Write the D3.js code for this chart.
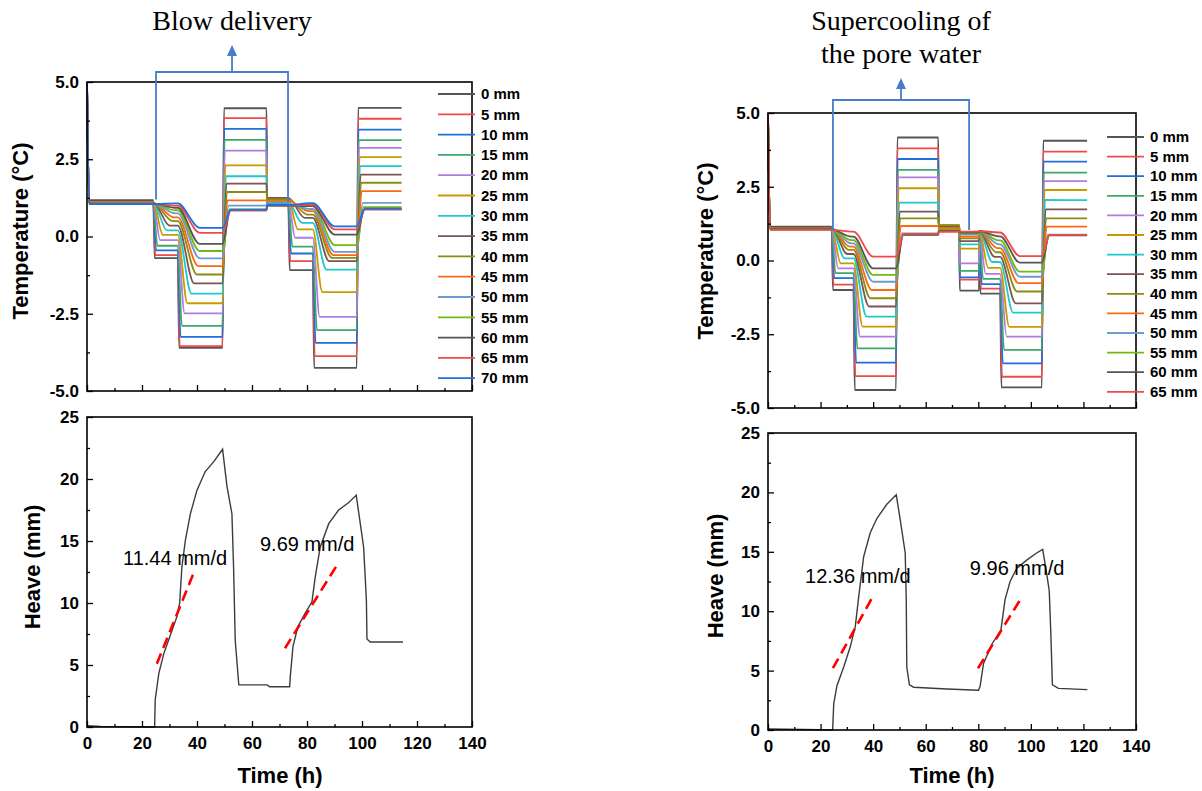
<!DOCTYPE html>
<html>
<head>
<meta charset="utf-8">
<script src="https://cdn.jsdelivr.net/npm/d3@7"></script>
<style>
body { margin: 0; background: #fff; }
svg { display: block; font-family: Arial, "Liberation Sans", sans-serif; }
</style>
</head>
<body>
<svg id="fig" width="1202" height="791"></svg>
<script>

// ---------- data ----------
var depthLabels = ["0 mm", "5 mm", "10 mm", "15 mm", "20 mm", "25 mm", "30 mm", "35 mm",
                   "40 mm", "45 mm", "50 mm", "55 mm", "60 mm", "65 mm", "70 mm"];
var lineColours = ["#555555", "#f14a4a", "#1f6fdc", "#3aa96a", "#b07ce0", "#c99a00", "#1ec8cc", "#7f5353",
                   "#8c8c10", "#fb6a10", "#6c9bd0", "#72b914", "#555555", "#f14a4a", "#1f6fdc"];

// left test (blow delivery): phase start times (h), last time, phase kinds
var leftPhaseStart = [0, 24.1, 33.0, 49.3, 65.3, 73.2, 82.1, 98.1];
var leftEndTime = 114.4;
var leftPhaseKind = ["init", "cool", "cool", "warm", "step", "cool", "cool", "warm"];
var leftReset = [null, null, null, null, null, null, null, null];
// plateau temperature (°C) reached in each phase, one row per depth
var leftLevels = [
  [1.18, -0.70, -3.60, 4.15, 1.05, -1.09, -4.25, 4.16],
  [1.10, -0.60, -3.55, 3.83, 1.05, -0.80, -3.87, 3.81],
  [1.08, -0.45, -3.25, 3.48, 1.05, -0.55, -3.44, 3.46],
  [1.08, -0.30, -2.89, 3.13, 1.10, -0.33, -3.03, 3.12],
  [1.08, -0.12, -2.49, 2.78, 1.15, -0.04, -2.60, 2.87],
  [1.10,  0.05, -2.16, 2.30, 1.22,  0.23, -1.80, 2.57],
  [1.08,  0.20, -1.85, 1.95, 1.12,  0.44, -1.07, 2.28],
  [1.10,  0.35, -1.52, 1.71, 1.25,  0.60, -0.80, 2.00],
  [1.08,  0.50, -1.23, 1.44, 1.20,  0.71, -0.69, 1.74],
  [1.08,  0.62, -0.96, 1.17, 1.15,  0.82, -0.60, 1.47],
  [1.06,  0.75, -0.71, 1.00, 1.05,  0.89, -0.50, 1.09],
  [1.06,  0.85, -0.47, 0.88, 1.00,  0.98, -0.28, 0.95],
  [1.06,  0.93, -0.24, 0.85, 1.00,  0.98,  0.06, 0.88],
  [1.05,  1.00,  0.12, 0.85, 1.00,  1.03,  0.23, 0.88],
  [1.05,  1.07,  0.28, 0.87, 1.02,  1.08,  0.33, 0.90]
];
// hours each depth needs to settle after a cooling / warming step
var leftCoolLag = [0.5, 0.7, 1.0, 1.5, 2.5, 3.5, 5.0, 6.0, 7.0, 7.5, 8.0, 8.0, 8.0, 8.0, 8.0];
var leftWarmLag = [0.5, 0.5, 0.6, 0.7, 0.8, 1.0, 1.2, 1.4, 1.6, 1.8, 2.2, 2.5, 2.8, 3.0, 3.0];

// right test (supercooling)
var rightPhaseStart = [0, 24.2, 32.5, 48.7, 64.8, 72.8, 80.3, 88.3, 104.2];
var rightEndTime = 121.4;
var rightPhaseKind = ["init", "cool", "cool", "warm", "step", "step", "cool", "cool", "warm"];
var rightReset = [null, null, null, null, null, null, 1.0, null, null];
var rightLevels = [
  [1.15, -1.00, -4.39, 4.17, 1.00, -1.02, -1.12, -4.30, 4.06],
  [1.08, -0.82, -3.92, 3.80, 0.98, -0.65, -0.95, -3.94, 3.69],
  [1.08, -0.60, -3.46, 3.44, 1.00, -0.57, -0.80, -3.49, 3.35],
  [1.08, -0.43, -2.98, 3.07, 1.02, -0.35, -0.62, -3.03, 2.98],
  [1.08, -0.27, -2.58, 2.82, 1.05, -0.10, -0.45, -2.58, 2.69],
  [1.10, -0.10, -2.24, 2.45, 1.20,  0.40, -0.25, -2.25, 2.39],
  [1.08,  0.07, -1.90, 1.96, 1.10,  0.55, -0.05, -1.77, 2.05],
  [1.10,  0.22, -1.56, 1.66, 1.15,  0.66,  0.12, -1.45, 1.73],
  [1.08,  0.36, -1.28, 1.43, 1.20,  0.75,  0.28, -1.05, 1.43],
  [1.08,  0.47, -1.00, 1.17, 1.10,  0.81,  0.42, -0.77, 1.15],
  [1.06,  0.58, -0.72, 0.92, 1.00,  0.88,  0.55, -0.55, 0.88],
  [1.06,  0.69, -0.49, 0.88, 1.05,  0.92,  0.68, -0.38, 0.86],
  [1.06,  0.81, -0.27, 0.87, 1.00,  0.95,  0.82, -0.07, 0.85],
  [1.04,  0.98,  0.13, 0.90, 0.98,  0.98,  0.95,  0.15, 0.87]
];
var rightCoolLag = [0.5, 0.7, 1.0, 1.5, 2.5, 3.5, 5.0, 6.0, 6.5, 7.0, 7.5, 7.5, 7.5, 7.5];
var rightWarmLag = [0.5, 0.5, 0.6, 0.7, 0.8, 1.0, 1.2, 1.4, 1.6, 1.8, 2.2, 2.5, 2.8, 3.0];

var startTemp = 5.0;
var initLag = 0.8;
var stepLag = 0.15;

// heave curves
var leftHeaveTime = [0, 5, 24.6, 24.8, 26.1, 27.9, 30.3, 32.7, 33.7, 34.5, 35.8, 37.6, 40, 43, 46.1, 49.3,
  50.9, 52.7, 53.3, 53.9, 55.2, 65.5, 66.4, 73.7, 73.9, 74.9, 76.7, 79.4, 81.8, 83.0, 84.8, 87.9,
  91.5, 95.2, 97.9, 100.6, 101.6, 101.8, 103.0, 114.9];
var leftHeave = [0.1, 0.05, 0, 2.2, 4.3, 5.9, 7.4, 8.9, 10.0, 12.9, 15.1, 17.2, 19.1, 20.6, 21.4, 22.4,
  19.4, 17.2, 12.9, 7.0, 3.4, 3.4, 3.25, 3.25, 4.0, 6.5, 8.1, 9.2, 10.1, 12.1, 14.5, 16.4,
  17.5, 18.1, 18.7, 14.5, 10.2, 7.1, 6.85, 6.85];
var rightHeaveTime = [0, 19.9, 24.6, 25.0, 26.2, 28.8, 31.3, 33.2, 34.5, 36.4, 38.9, 41.4, 45.2, 48.8,
  50.3, 52.2, 52.6, 52.8, 53.8, 55.4, 68.0, 80.1, 80.7, 82.0, 85.1, 88.6, 90.2, 92.1, 94.6, 98.4,
  102.2, 104.5, 106.0, 107.0, 107.6, 108.2, 110.5, 121.5];
var rightHeave = [0.08, 0.02, 0, 2.2, 3.7, 5.3, 7.0, 8.7, 11.2, 14.6, 16.6, 17.8, 19.0, 19.8,
  17.7, 14.9, 11.0, 5.3, 3.8, 3.6, 3.45, 3.35, 3.7, 5.6, 7.2, 8.4, 11.0, 12.5, 13.6, 14.3,
  14.9, 15.2, 13.2, 11.7, 8.1, 3.8, 3.5, 3.4];

// heave-rate tangents [t0, t1] / [h0, h1] and labels
var leftRateT = [[25.4, 39.3], [72.0, 91.6]];
var leftRateH = [[5.1, 12.7], [6.35, 13.3]];
var leftRateText = ["11.44 mm/d", "9.69 mm/d"];
var leftRateTextAt = [[13.1, 13.06], [62.9, 14.2]];
var rightRateT = [[24.7, 40.3], [79.9, 96.6]];
var rightRateH = [[5.2, 11.4], [5.2, 11.2]];
var rightRateText = ["12.36 mm/d", "9.96 mm/d"];
var rightRateTextAt = [[14.1, 12.37], [76.8, 13.05]];

var timeTicks = [0, 20, 40, 60, 80, 100, 120, 140];
var tempTicks = [-5, -2.5, 0, 2.5, 5];
var heaveTicks = [0, 5, 10, 15, 20, 25];

// ---------- drawing ----------
var svg = d3.select("#fig");
var serif = "'Times New Roman', 'Liberation Serif', serif";

function addAxes(g, x, y, yTicks, yMinorStep, showXLabels, yFmt) {
	var x0 = x.range()[0], x1 = x.range()[1];
	var y0 = y.range()[0], y1 = y.range()[1];
	var yDom = y.domain();

	// inward ticks, minor first
	var xMinor = d3.range(10, 140, 20);
	g.append("g").attr("transform", "translate(0," + y0 + ")")
	.call(d3.axisBottom(x).tickValues(xMinor).tickSize(-3).tickFormat(""));
	g.append("g").attr("transform", "translate(0," + y0 + ")")
	.call(d3.axisBottom(x).tickValues(timeTicks).tickSize(-6).tickPadding(10)
		.tickFormat(showXLabels ? function(d){ return d; } : ""));

	var yMinor = d3.range(yDom[0] + yMinorStep, yDom[1], yMinorStep * 2);
	g.append("g").attr("transform", "translate(" + x0 + ",0)")
	.call(d3.axisLeft(y).tickValues(yMinor).tickSize(-3).tickFormat(""));
	g.append("g").attr("transform", "translate(" + x0 + ",0)")
	.call(d3.axisLeft(y).tickValues(yTicks).tickSize(-6).tickPadding(8).tickFormat(yFmt));

	g.selectAll(".domain").remove();
	g.selectAll(".tick line").attr("stroke", "#000").attr("stroke-width", 1.3);
	g.selectAll(".tick text").attr("fill", "#000").style("font-size", "17px").style("font-weight", "bold")
	.style("font-family", "Arial, 'Liberation Sans', sans-serif");

	// frame
	g.append("rect").attr("x", x0).attr("y", y1).attr("width", x1 - x0).attr("height", y0 - y1)
	.attr("fill", "none").attr("stroke", "#000").attr("stroke-width", 1.6);
}

function tempPanel(o) {
	var x = d3.scaleLinear().domain([0, 140]).range([o.left, o.right]);
	var y = d3.scaleLinear().domain([-5, 5]).range([o.bottom, o.top]);
	var g = svg.append("g");

	var line = d3.line()
	.x(function(d) { return x(d[0]); })
	.y(function(d) { return y(d[1]); })
	.curve(d3.curveMonotoneX);

	o.levels.forEach(function(lv, i) {
		var pts = [[0, startTemp]];
		o.phaseStart.forEach(function(t0, p) {
			var t1 = p < o.phaseStart.length - 1 ? o.phaseStart[p + 1] : o.end;
			var kind = o.kind[p];
			var lag = kind == "init" ? initLag : kind == "step" ? stepLag :
				kind == "cool" ? o.coolLag[i] : o.warmLag[i];
			if (o.reset[p] != null) pts.push([t0 + 0.1, o.reset[p]]);
			pts.push([t0 + lag, lv[p]]);
			pts.push([t1, lv[p]]);
		});
		g.append("path").attr("d", line(pts))
		.attr("fill", "none").attr("stroke", lineColours[i]).attr("stroke-width", 1.8);
	});

	addAxes(g, x, y, tempTicks, 1.25, false, function(d) { return d.toFixed(1); });

	// legend
	o.levels.forEach(function(lv, i) {
		var ly = o.legTop + i * o.legStep;
		g.append("line").attr("x1", o.legX).attr("x2", o.legX + 37).attr("y1", ly).attr("y2", ly)
		.attr("stroke", lineColours[i]).attr("stroke-width", 1.8);
		g.append("text").attr("x", o.legX + 43).attr("y", ly).attr("dy", "0.35em")
		.style("font-size", "15px").style("font-weight", "bold").text(depthLabels[i]);
	});

	g.append("text")
	.attr("transform", "translate(" + o.yLabelX + "," + o.yLabelY + ") rotate(-90)")
	.attr("text-anchor", "middle").attr("dy", "0.35em")
	.style("font-size", "22px").style("font-weight", "bold")
	.text("Temperature (\u00b0C)");

	// bracket with arrow
	var bx0 = x(o.bracketT[0]), bx1 = x(o.bracketT[1]), cx = (bx0 + bx1) / 2 + o.arrowShift;
	g.append("path")
	.attr("d", "M" + bx0 + "," + y(o.bracketBottom[0]) + "V" + o.bracketTop + "H" + bx1 + "V" + y(o.bracketBottom[1]))
	.attr("fill", "none").attr("stroke", "#4a7cc9").attr("stroke-width", 1.8);
	g.append("line").attr("x1", cx).attr("x2", cx).attr("y1", o.bracketTop).attr("y2", o.arrowTip + 10)
	.attr("stroke", "#4a7cc9").attr("stroke-width", 1.8);
	g.append("path")
	.attr("d", "M" + (cx - 5) + "," + (o.arrowTip + 11) + "L" + cx + "," + o.arrowTip + "L" + (cx + 5) + "," + (o.arrowTip + 11) + "Z")
	.attr("fill", "#4a7cc9");

	o.title.forEach(function(s, k) {
		g.append("text").attr("x", cx).attr("y", o.titleY + k * 33)
		.attr("text-anchor", "middle").style("font-family", serif).style("font-size", "28px")
		.text(s);
	});
}

function heavePanel(o) {
	var x = d3.scaleLinear().domain([0, 140]).range([o.left, o.right]);
	var y = d3.scaleLinear().domain([0, 25]).range([o.bottom, o.top]);
	var g = svg.append("g");

	var line = d3.line()
	.x(function(d) { return x(d[0]); })
	.y(function(d) { return y(d[1]); });

	var pts = o.time.map(function(t, k) { return [t, o.heave[k]]; });
	g.append("path").attr("d", line(pts))
	.attr("fill", "none").attr("stroke", "#3c3c3c").attr("stroke-width", 1.4);

	o.rateT.forEach(function(tt, k) {
		g.append("line")
		.attr("x1", x(tt[0])).attr("x2", x(tt[1]))
		.attr("y1", y(o.rateH[k][0])).attr("y2", y(o.rateH[k][1]))
		.attr("stroke", "#ff0000").attr("stroke-width", 2.6).attr("stroke-dasharray", "11,6");
		g.append("text").attr("x", x(o.textAt[k][0])).attr("y", y(o.textAt[k][1]))
		.style("font-size", "20px").text(o.text[k]);
	});

	addAxes(g, x, y, heaveTicks, 2.5, true, function(d) { return d; });

	g.append("text")
	.attr("transform", "translate(" + o.yLabelX + "," + o.yLabelY + ") rotate(-90)")
	.attr("text-anchor", "middle").attr("dy", "0.35em")
	.style("font-size", "22px").style("font-weight", "bold")
	.text("Heave (mm)");
	g.append("text").attr("x", o.xLabelX).attr("y", 783).attr("text-anchor", "middle")
	.style("font-size", "22px").style("font-weight", "bold").text("Time (h)");
}

tempPanel({
	left: 87, right: 472, top: 82, bottom: 391,
	levels: leftLevels, phaseStart: leftPhaseStart, end: leftEndTime, kind: leftPhaseKind,
	reset: leftReset, coolLag: leftCoolLag, warmLag: leftWarmLag,
	legX: 438, legTop: 94, legStep: 20.3,
	yLabelX: 20, yLabelY: 231,
	bracketT: [25.1, 73.1], bracketBottom: [1.2, 1.1], bracketTop: 72, arrowTip: 45, arrowShift: 10,
	title: ["Blow delivery"], titleY: 30
});

tempPanel({
	left: 768, right: 1136, top: 113, bottom: 408,
	levels: rightLevels, phaseStart: rightPhaseStart, end: rightEndTime, kind: rightPhaseKind,
	reset: rightReset, coolLag: rightCoolLag, warmLag: rightWarmLag,
	legX: 1107, legTop: 137, legStep: 19.6,
	yLabelX: 705, yLabelY: 251,
	bracketT: [24.7, 76.5], bracketBottom: [1.03, 1.03], bracketTop: 100, arrowTip: 78, arrowShift: 0,
	title: ["Supercooling of", "the pore water"], titleY: 30
});

heavePanel({
	left: 87, right: 472, top: 417, bottom: 727,
	time: leftHeaveTime, heave: leftHeave,
	rateT: leftRateT, rateH: leftRateH, text: leftRateText, textAt: leftRateTextAt,
	yLabelX: 32, yLabelY: 567, xLabelX: 280
});

heavePanel({
	left: 768, right: 1136, top: 433, bottom: 730,
	time: rightHeaveTime, heave: rightHeave,
	rateT: rightRateT, rateH: rightRateH, text: rightRateText, textAt: rightRateTextAt,
	yLabelX: 715, yLabelY: 576, xLabelX: 952
});

</script>
</body>
</html>
